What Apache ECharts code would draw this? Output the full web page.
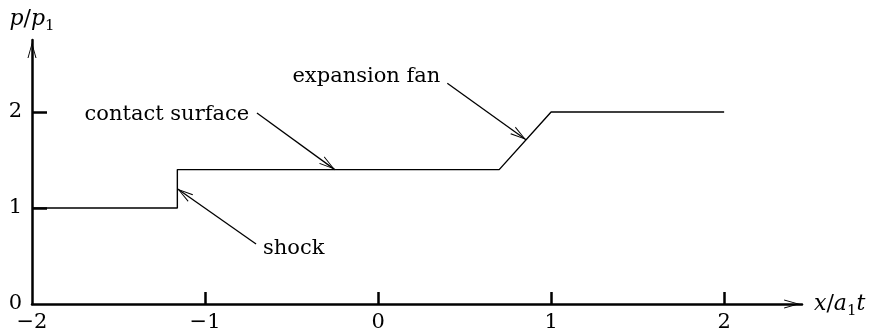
<!DOCTYPE html>
<html>
<head>
<meta charset="utf-8">
<script src="https://cdn.jsdelivr.net/npm/echarts@6/dist/echarts.min.js"></script>
<style>
  html, body { margin: 0; padding: 0; background: #fff; }
  #chart { width: 886px; height: 335px; }
</style>
</head>
<body>
<div id="chart"></div>
<script>
// Pressure profile of a shock tube: p/p1 against x/(a1 t)
var xValues = [-2, -1.16, -1.16, 0.70, 1.00, 2.00];
var pValues = [1.00, 1.00, 1.40, 1.40, 2.00, 2.00];

var xTickValues = [-1, 0, 1, 2];
var xLabelValues = [-2, -1, 0, 1, 2];
var yTickValues = [1, 2];
var yLabelValues = [0, 1, 2];

// Annotation arrows: tail point and head point in data units
var noteNames = ['contact surface', 'expansion fan', 'shock'];
var arrowTails = [[-0.70, 1.99], [0.40, 2.30], [-0.705, 0.625]];
var arrowHeads = [[-0.25, 1.40], [0.855, 1.71], [-1.16, 1.20]];
// Text anchors for the annotations
var noteAnchors = [[-0.745, 1.97], [0.36, 2.37], [-0.665, 0.58]];
var noteAlign = ['right', 'right', 'left'];

var FONT = '"DejaVu Serif", "Liberation Serif", serif';
var HEAD = 'path://M0,0 L4,14 L3.1,14 L0,2.6 L-3.1,14 L-4,14 Z';

function minusFmt(v) {
  return v < 0 ? '\u2212' + Math.abs(v) : String(v);
}

var nameRich = {
  i: { fontStyle: 'italic', fontFamily: FONT, fontSize: 22, color: '#000', lineHeight: 30, verticalAlign: 'middle' },
  u: { fontFamily: FONT, fontSize: 22, color: '#000', lineHeight: 30, verticalAlign: 'middle' },
  s: { fontFamily: FONT, fontSize: 15, color: '#000', lineHeight: 15, verticalAlign: 'bottom' }
};

var profile = xValues.map(function (x, i) { return [x, pValues[i]]; });

var arrowData = arrowTails.map(function (t, i) {
  return [{ coord: t }, { coord: arrowHeads[i] }];
});

var noteData = noteAnchors.map(function (a, i) {
  return {
    value: a,
    name: noteNames[i],
    label: { align: noteAlign[i] }
  };
});

var chart = echarts.init(document.getElementById('chart'), null, { renderer: 'canvas' });

chart.setOption({
  animation: false,
  backgroundColor: '#fff',
  grid: { left: 32, right: 84, top: 40, bottom: 31, containLabel: false, outerBoundsMode: 'none' },
  xAxis: {
    type: 'value',
    min: -2,
    max: 2.45,
    name: '{i|x}{u|/}{i|a}{s|1}{i|t}',
    nameLocation: 'end',
    nameGap: 12,
    nameTextStyle: { color: '#000', fontFamily: FONT, fontSize: 22, align: 'left', rich: nameRich },
    splitLine: { show: false },
    axisLine: {
      onZero: false,
      lineStyle: { color: '#000', width: 2.5 },
      symbol: ['none', HEAD],
      symbolSize: [9, 20],
      symbolOffset: [0, -10]
    },
    axisTick: {
      show: true, inside: true, length: 12,
      customValues: xTickValues,
      lineStyle: { color: '#000', width: 2.5 }
    },
    axisLabel: {
      customValues: xLabelValues,
      formatter: minusFmt,
      margin: 8,
      color: '#000', fontFamily: FONT, fontSize: 21
    }
  },
  yAxis: {
    type: 'value',
    min: 0,
    max: 2.75,
    name: '{i|p}{u|/}{i|p}{s|1}',
    nameLocation: 'end',
    nameGap: 6,
    nameTextStyle: { color: '#000', fontFamily: FONT, fontSize: 22, rich: nameRich },
    splitLine: { show: false },
    axisLine: {
      show: true,
      onZero: false,
      lineStyle: { color: '#000', width: 2.5 },
      symbol: ['none', HEAD],
      symbolSize: [9, 20],
      symbolOffset: [0, -10]
    },
    axisTick: {
      show: true, inside: true, length: 15,
      customValues: yTickValues,
      lineStyle: { color: '#000', width: 2.5 }
    },
    axisLabel: {
      customValues: yLabelValues,
      formatter: minusFmt,
      margin: 10,
      color: '#000', fontFamily: FONT, fontSize: 21
    }
  },
  series: [
    {
      type: 'line',
      data: profile,
      showSymbol: false,
      symbol: 'none',
      lineStyle: { color: '#000', width: 1.4 },
      silent: true,
      markLine: {
        silent: true,
        symbol: ['none', HEAD],
        symbolSize: [9, 16],
        symbolOffset: [[0, 0], [0, 8]],
        lineStyle: { color: '#000', width: 1.3, type: 'solid' },
        label: { show: false },
        data: arrowData
      }
    },
    {
      type: 'scatter',
      data: noteData,
      symbolSize: 0,
      silent: true,
      itemStyle: { opacity: 1 },
      label: {
        show: true,
        position: 'inside',
        verticalAlign: 'middle',
        formatter: function (p) { return p.name; },
        color: '#000',
        fontFamily: FONT,
        fontSize: 21
      }
    }
  ]
});
</script>
</body>
</html>
